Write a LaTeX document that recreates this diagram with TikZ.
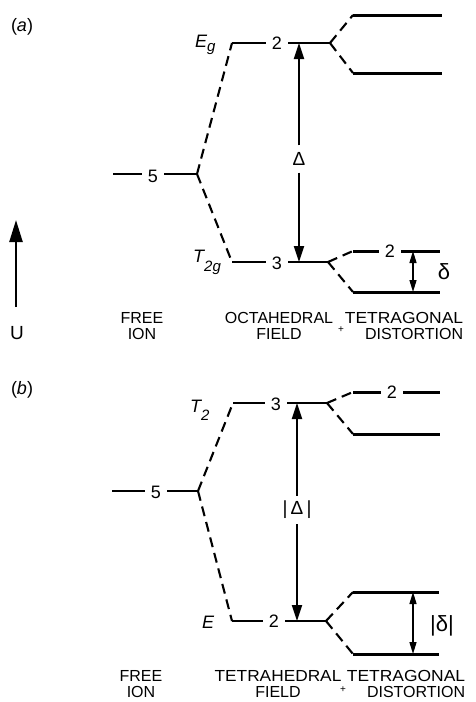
\documentclass[tikz,border=0pt]{standalone}
\usepackage{fontspec}
\usepackage{graphicx}
\setmainfont{Liberation Sans}
\usetikzlibrary{arrows.meta}
\newcommand{\fsz}[1]{\fontsize{#1}{#1}\selectfont}
\newcommand{\lsub}[2]{\raisebox{-#1}{\fsz{15}#2}}

\begin{document}
\begin{tikzpicture}[x=1pt,y=-1pt,
    lvl/.style={line width=2.6pt},
    tlvl/.style={line width=3pt},
    split/.style={line width=2.1pt, dash pattern=on 10pt off 6pt},
    deg/.style={font=\fsz{18}, inner xsep=6pt, inner ysep=1pt},
    orb/.style={font=\fsz{18}\itshape, anchor=base west, inner sep=0pt},
    gap/.style={line width=1.9pt, -{Triangle[length=16pt,width=10pt]}},
    sgap/.style={line width=1.4pt, {Triangle[length=12pt,width=7pt]}-{Triangle[length=12pt,width=7pt]}},
    stage/.style={font=\fontsize{16}{15.5}\selectfont, align=center},
    plus/.style={font=\fsz{10}}]
  \useasboundingbox (0,0) rectangle (476,702);

  % energy axis
  \coordinate (Ub) at (16,307);
  \coordinate (Ut) at (16,220);
  \node[font=\fsz{19}] (U) at (17,333) {U};
  \draw[line width=2.3pt, -{Triangle[length=22pt,width=13pt]}] (Ub) -- (Ut);

  % ---- (a) octahedral ----
  \node[font=\fsz{18}] (pa) at (22,27) {(\textit{a})};

  \coordinate (a5l) at (113,174);
  \coordinate (a5r) at (197,174);
  \node[deg] (a5) at (153,176) {5};
  \draw[lvl] (a5l) -- (a5l -| a5.west) (a5r -| a5.east) -- (a5r);

  \coordinate (aEl) at (232,43);
  \coordinate (aEr) at (330,43);
  \node[deg] (aE) at (277,43) {2};
  \node[orb] (aEg) at (195,47) {E\lsub{4pt}{g}};
  \draw[lvl] (aEl) -- (aEl -| aE.west) (aE.east |- aEl) -- (aEr);

  \coordinate (aTl) at (232,262);
  \coordinate (aTr) at (328,262);
  \node[deg] (aT) at (277,263) {3};
  \node[orb] (aT2g) at (193,262) {T\lsub{9pt}{2g}};
  \draw[lvl] (aTl) -- (aTl -| aT.west) (aT.east |- aTl) -- (aTr);

  \draw[split] (a5r) -- (aEl) (a5r) -- (aTl);

  % splitting of E_g
  \coordinate (aEu) at (353,15);
  \coordinate (aEd) at (353,73);
  \coordinate (aEue) at (442,15);
  \coordinate (aEde) at (442,73);
  \draw[split] (aEr) -- (aEu) (aEr) -- (aEd);
  \draw[tlvl] (aEu) -- (aEue) (aEd) -- (aEde);

  % splitting of T_2g
  \coordinate (aSu) at (353,251);
  \coordinate (aSd) at (353,292);
  \coordinate (aSue) at (440,251);
  \coordinate (aSde) at (440,292);
  \node[deg] (aS) at (390,251) {2};
  \draw[split] (aTr) -- (aSu) (aTr) -- (aSd);
  \draw[tlvl] (aSu) -- (aSu -| aS.west) (aS.east |- aSu) -- (aSue) (aSd) -- (aSde);

  % gaps
  \coordinate (aDt) at (299,43);
  \coordinate (aDb) at (299,262);
  \node[font=\fsz{19}, inner sep=7pt] (aD) at (299,159) {Δ};
  \draw[gap] (aD) -- (aDt);
  \draw[gap] (aD) -- (aDb);
  \coordinate (adt) at (413,251);
  \coordinate (adb) at (413,292);
  \draw[sgap] (adt) -- (adb);
  \node[font=\fsz{22}] (ad) at (444,272) {δ};

  \node[stage] (afree) at (142,326) {FREE\\ION};
  \node[stage] (aoct) at (279,326) {OCTAHEDRAL\\FIELD};
  \node[plus] (aplus) at (341,330) {+};
  \node[stage, align=right] (adis) at (404,326) {\scalebox{1.09}[1]{TETRAGONAL}\\DISTORTION};

  % ---- (b) tetrahedral ----
  \node[font=\fsz{18}] (pb) at (22,390) {(\textit{b})};

  \coordinate (b5l) at (112,491);
  \coordinate (b5r) at (198,491);
  \node[deg] (b5) at (156,492) {5};
  \draw[lvl] (b5l) -- (b5l -| b5.west) (b5r -| b5.east) -- (b5r);

  \coordinate (bTl) at (233,403);
  \coordinate (bTr) at (327,403);
  \node[deg] (bT) at (276,404) {3};
  \node[orb] (bT2) at (190,412) {T\lsub{8pt}{2}};
  \draw[lvl] (bTl) -- (bTl -| bT.west) (bT.east |- bTl) -- (bTr);

  \coordinate (bEl) at (232,621);
  \coordinate (bEr) at (326,621);
  \node[deg] (bE) at (274,621) {2};
  \node[orb] (bE1) at (202,628) {E};
  \draw[lvl] (bEl) -- (bEl -| bE.west) (bE.east |- bEl) -- (bEr);

  \draw[split] (b5r) -- (bTl) (b5r) -- (bEl);

  % splitting of T_2
  \coordinate (bTu) at (353,392);
  \coordinate (bTd) at (353,434);
  \coordinate (bTue) at (440,392);
  \coordinate (bTde) at (440,434);
  \node[deg] (bS) at (392,392) {2};
  \draw[split] (bTr) -- (bTu) (bTr) -- (bTd);
  \draw[tlvl] (bTu) -- (bTu -| bS.west) (bS.east |- bTu) -- (bTue) (bTd) -- (bTde);

  % splitting of E
  \coordinate (bEu) at (353,592);
  \coordinate (bEd) at (353,654);
  \coordinate (bEue) at (439,592);
  \coordinate (bEde) at (439,654);
  \draw[split] (bEr) -- (bEu) (bEr) -- (bEd);
  \draw[tlvl] (bEu) -- (bEue) (bEd) -- (bEde);

  % gaps
  \coordinate (bDt) at (297,403);
  \coordinate (bDb) at (297,621);
  \node[font=\fsz{19}, inner sep=5pt] (bD) at (297,510) {|\,Δ\,|};
  \draw[gap] (bD) -- (bDt);
  \draw[gap] (bD) -- (bDb);
  \coordinate (bdt) at (413,592);
  \coordinate (bdb) at (413,654);
  \draw[sgap] (bdt) -- (bdb);
  \node[font=\fsz{22}] (bd) at (442,626) {|δ|};

  \node[stage] (bfree) at (141,684) {FREE\\ION};
  \node[stage] (btet) at (278,684) {\scalebox{1.08}[1]{TETRAHEDRAL}\\FIELD};
  \node[plus] (bplus) at (343,690) {+};
  \node[stage, align=right] (bdis) at (406,684) {\scalebox{1.09}[1]{TETRAGONAL}\\DISTORTION};
\end{tikzpicture}
\end{document}
